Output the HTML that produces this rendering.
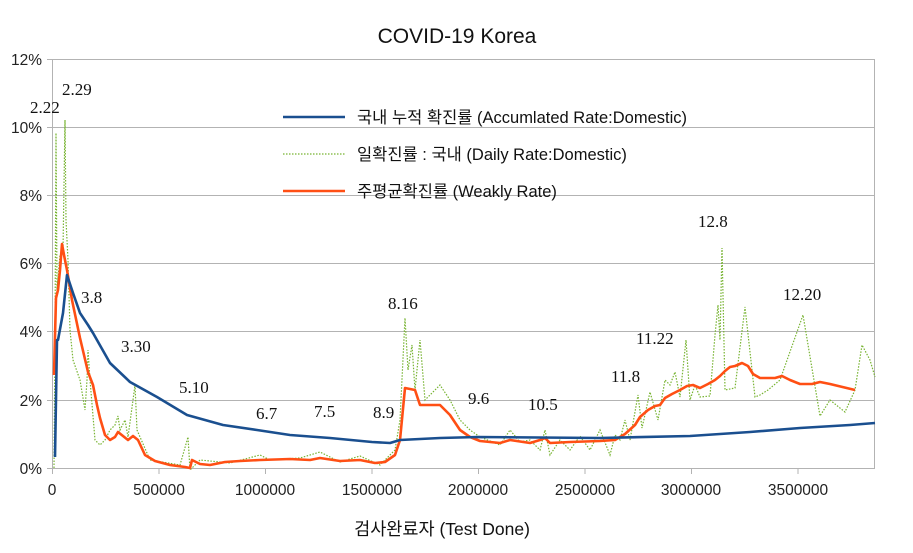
<!DOCTYPE html>
<html><head><meta charset="utf-8"><style>
body{margin:0;background:#fff}
svg text{font-family:"Liberation Sans","Noto Sans CJK KR",sans-serif}
.s{font-family:"Liberation Serif",serif !important;font-size:17px;fill:#111}
</style></head><body>
<svg width="913" height="548" viewBox="0 0 913 548" xmlns="http://www.w3.org/2000/svg">
<rect width="913" height="548" fill="#fff"/>
<g stroke="#b3b3b3" stroke-width="1">
<line x1="47" y1="59.5" x2="875" y2="59.5"/>
<line x1="47" y1="127.5" x2="875" y2="127.5"/>
<line x1="47" y1="195.5" x2="875" y2="195.5"/>
<line x1="47" y1="263.5" x2="875" y2="263.5"/>
<line x1="47" y1="331.5" x2="875" y2="331.5"/>
<line x1="47" y1="400.5" x2="875" y2="400.5"/>
<line x1="47" y1="468.5" x2="875" y2="468.5"/>
<line x1="52.5" y1="59" x2="52.5" y2="474"/>
<line x1="874.5" y1="59" x2="874.5" y2="468"/>
<line x1="159" y1="468" x2="159" y2="474"/>
<line x1="265.5" y1="468" x2="265.5" y2="474"/>
<line x1="372" y1="468" x2="372" y2="474"/>
<line x1="478.5" y1="468" x2="478.5" y2="474"/>
<line x1="585" y1="468" x2="585" y2="474"/>
<line x1="691.5" y1="468" x2="691.5" y2="474"/>
<line x1="798" y1="468" x2="798" y2="474"/>
</g>
<g font-size="15.5" fill="#222" text-anchor="end">
<text x="42" y="65">12%</text><text x="42" y="133">10%</text><text x="42" y="201">8%</text>
<text x="42" y="269">6%</text><text x="42" y="337">4%</text><text x="42" y="406">2%</text><text x="42" y="474">0%</text>
</g>
<g font-size="15.5" fill="#222" text-anchor="middle">
<text x="52" y="495">0</text><text x="159" y="495">500000</text><text x="265" y="495">1000000</text>
<text x="372" y="495">1500000</text><text x="478" y="495">2000000</text><text x="585" y="495">2500000</text>
<text x="691" y="495">3000000</text><text x="798" y="495">3500000</text>
</g>
<text x="457" y="43" font-size="21" text-anchor="middle" fill="#111">COVID-19 Korea</text>
<text x="442" y="535" font-size="17.5" text-anchor="middle" fill="#111">검사완료자 (Test Done)</text>

<polyline fill="none" stroke="#77b331" stroke-width="1.2" stroke-dasharray="1.5,1.5" points="54,468 55,340 56,133 57,290 60,255 63,250 65,120 66,220 68,260 70,330 73,360 80,380 85,410 87,380 88,350 90,380 95,440 100,445 105,440 110,430 115,425 118,416 120,430 125,420 128,437 133,400 135,385 137,430 150,460 180,465 188,437 190,470 200,460 230,463 260,455 270,460 300,458 320,452 340,462 360,456 380,465 395,450 400,420 405,318 408,370 412,345 415,390 420,340 425,400 440,385 450,400 460,420 470,430 480,437 500,445 510,430 520,442 530,440 540,450 545,430 550,455 560,440 570,450 580,436 590,450 600,430 610,455 615,435 620,440 625,420 630,440 638,395 642,428 650,392 658,420 665,380 670,385 675,372 680,397 686,340 690,400 695,385 700,397 710,396 715,335 718,305 720,340 722,248 725,390 735,388 745,307 755,397 760,395 768,390 780,380 803,315 820,416 830,400 845,412 855,390 862,345 870,360 875,377"/>
<polyline fill="none" stroke="#ff4f14" stroke-width="2.6" stroke-linejoin="round" points="54,375 56,298 58,290 60,270 62,244 64,255 67,270 72,300 80,338 88,372 93,385 97,405 100,418 105,435 110,440 115,437 118,432 123,436 128,440 133,436 138,440 145,455 155,461 170,465 185,467 190,468 192,460 200,464 210,465 225,462 240,461 260,460 290,459 310,460 320,458 340,461 360,460 375,463 385,462 395,455 400,440 405,388 415,390 420,405 440,405 450,415 460,430 470,437 480,441 500,443 510,440 530,443 540,440 545,438 550,443 570,442 600,441 615,440 625,434 635,425 640,417 648,410 655,406 660,405 665,398 672,394 680,390 687,386 693,385 700,388 708,384 715,380 720,376 725,371 730,367 735,366 742,363 748,366 753,374 760,378 767,378 775,378 782,376 790,380 800,384 812,384 820,382 830,384 855,390"/>
<polyline fill="none" stroke="#1a4f8f" stroke-width="2.6" stroke-linejoin="round" points="55,457 57,340 58,340 63,313 67,275 73,293 80,313 88,325 93,333 110,363 130,382 157,397 187,415 223,425 257,430 290,435 330,438 372,442 390,443 400,440 440,438 478,437 600,438 690,436 750,432 800,428 850,425 875,423"/>

<g class="s">
<text class="s" x="30" y="113">2.22</text><text class="s" x="62" y="95">2.29</text>
<text class="s" x="81" y="303">3.8</text><text class="s" x="121" y="352">3.30</text>
<text class="s" x="179" y="393">5.10</text><text class="s" x="256" y="419">6.7</text>
<text class="s" x="314" y="417">7.5</text><text class="s" x="373" y="418">8.9</text>
<text class="s" x="388" y="309">8.16</text><text class="s" x="468" y="404">9.6</text>
<text class="s" x="528" y="410">10.5</text><text class="s" x="611" y="382">11.8</text>
<text class="s" x="636" y="344">11.22</text><text class="s" x="698" y="227">12.8</text>
<text class="s" x="783" y="300">12.20</text>
</g>

<line x1="283" y1="117" x2="345" y2="117" stroke="#1a4f8f" stroke-width="2.6"/>
<line x1="283" y1="154" x2="345" y2="154" stroke="#77b331" stroke-width="1.2" stroke-dasharray="1.5,1.5"/>
<line x1="283" y1="191" x2="345" y2="191" stroke="#ff4f14" stroke-width="2.6"/>
<g font-size="16.5" fill="#111">
<text x="357" y="123">국내 누적 확진률 (Accumlated Rate:Domestic)</text>
<text x="357" y="160">일확진률 : 국내 (Daily Rate:Domestic)</text>
<text x="357" y="197">주평균확진률 (Weakly Rate)</text>
</g>
</svg>
</body></html>
